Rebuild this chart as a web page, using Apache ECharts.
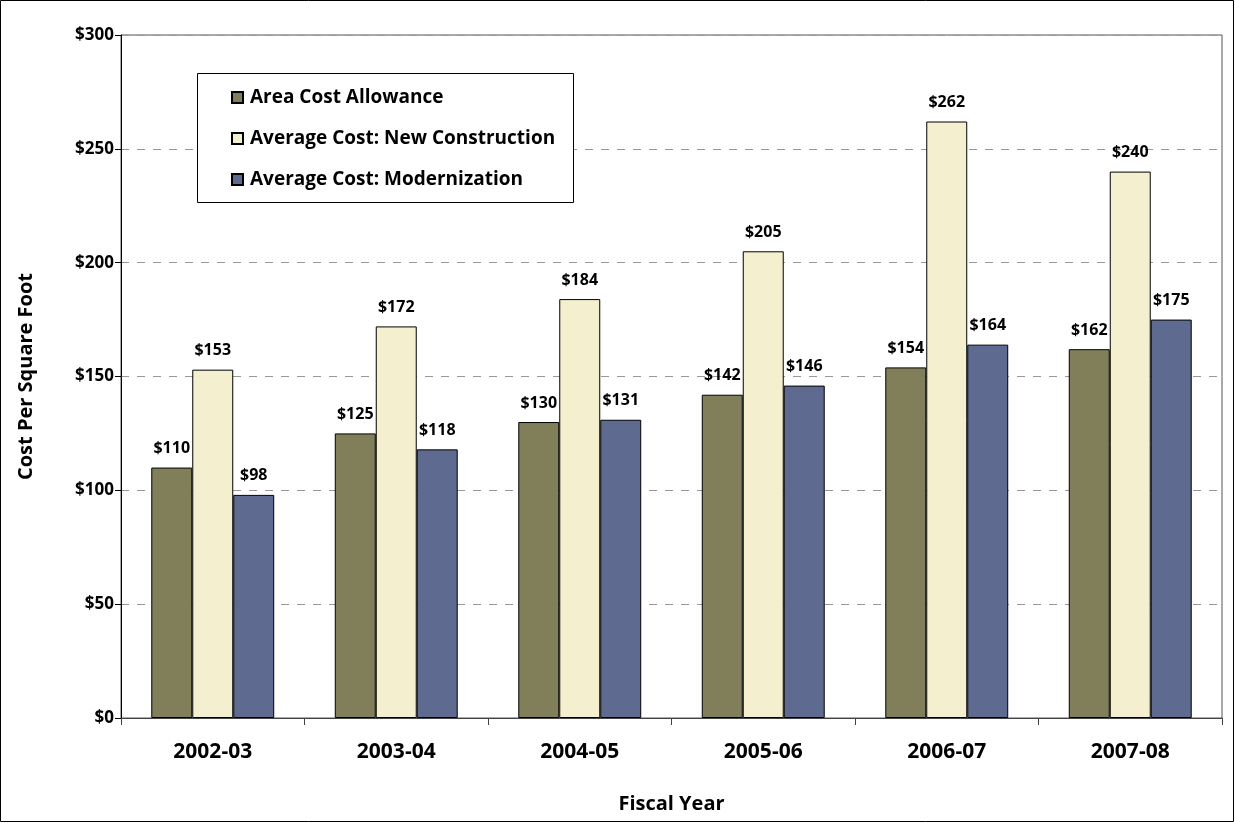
<!DOCTYPE html>
<html>
<head>
<meta charset="utf-8">
<script src="https://cdn.jsdelivr.net/npm/echarts@6/dist/echarts.min.js"></script>
<style>
  html, body { margin: 0; padding: 0; background: #fff; }
  #chart { width: 1235px; height: 823px; }
</style>
</head>
<body>
<div id="chart"></div>
<script>
// fiscal years and cost per square foot
var years = ['2002-03', '2003-04', '2004-05', '2005-06', '2006-07', '2007-08']
var areaCostAllowance = [110, 125, 130, 142, 154, 162]
var newConstruction = [153, 172, 184, 205, 262, 240]
var modernization = [98, 118, 131, 146, 164, 175]
var seriesNames = ['Area Cost Allowance', 'Average Cost: New Construction', 'Average Cost: Modernization']

var font = '"Open Sans", "DejaVu Sans", sans-serif'
var chart = echarts.init(document.getElementById('chart'))

function barSeries(name, data, color) {
  return {
    name: name,
    type: 'bar',
    data: data,
    barGap: '0%',
    barCategoryGap: '33%',
    itemStyle: { color: color, borderColor: '#000', borderWidth: 1 },
    label: {
      show: true,
      position: 'top',
      distance: 11,
      formatter: function (p) { return '$' + p.value },
      fontFamily: font,
      fontWeight: 'bold',
      fontSize: 16,
      color: '#000'
    }
  }
}

var option = {
  backgroundColor: '#fff',
  animation: false,
  textStyle: { fontFamily: font },
  graphic: [
    {
      type: 'rect',
      shape: { x: 0.5, y: 0.5, width: 1233, height: 821 },
      style: { fill: 'none', stroke: '#000', lineWidth: 1 },
      silent: true
    },
    {
      type: 'rect',
      z: 5,
      shape: { x: 197.5, y: 73.5, width: 376, height: 129 },
      style: { fill: '#fff', stroke: '#000', lineWidth: 1 },
      silent: true
    }
  ],
  legend: {
    orient: 'vertical',
    left: 226,
    top: 83,
    z: 10,
    icon: 'rect',
    itemWidth: 11,
    itemHeight: 11,
    itemGap: 22,
    data: seriesNames,
    textStyle: { fontFamily: font, fontWeight: 'bold', fontSize: 19, color: '#000', padding: [0, 0, 0, 2] }
  },
  grid: {
    left: 121,
    right: 13,
    top: 35,
    bottom: 105,
    show: true,
    borderColor: '#555',
    borderWidth: 1
  },
  xAxis: {
    type: 'category',
    data: years,
    name: 'Fiscal Year',
    nameLocation: 'middle',
    nameGap: 76,
    nameTextStyle: { fontFamily: font, fontWeight: 'bold', fontSize: 20, color: '#000' },
    axisLine: { lineStyle: { color: '#444' } },
    axisTick: { show: true, length: 7, lineStyle: { color: '#444' } },
    axisLabel: { margin: 24, fontFamily: font, fontWeight: 'bold', fontSize: 21, color: '#000' }
  },
  yAxis: {
    type: 'value',
    min: 0,
    max: 300,
    interval: 50,
    name: 'Cost Per Square Foot',
    nameLocation: 'middle',
    nameRotate: 90,
    nameGap: 85,
    nameTextStyle: { fontFamily: font, fontWeight: 'bold', fontSize: 20, color: '#000' },
    axisLine: { show: true, lineStyle: { color: '#000' } },
    axisTick: { show: true, length: 6, lineStyle: { color: '#000' } },
    axisLabel: {
      margin: 7,
      formatter: function (v) { return '$' + v },
      fontFamily: font,
      fontWeight: 'bold',
      fontSize: 17,
      color: '#000'
    },
    splitLine: { show: true, lineStyle: { color: '#999', type: [8, 8] } }
  },
  series: [
    barSeries(seriesNames[0], areaCostAllowance, '#817F5A'),
    barSeries(seriesNames[1], newConstruction, '#F4EFCF'),
    barSeries(seriesNames[2], modernization, '#5E6A8F')
  ]
}

chart.setOption(option)
</script>
</body>
</html>
